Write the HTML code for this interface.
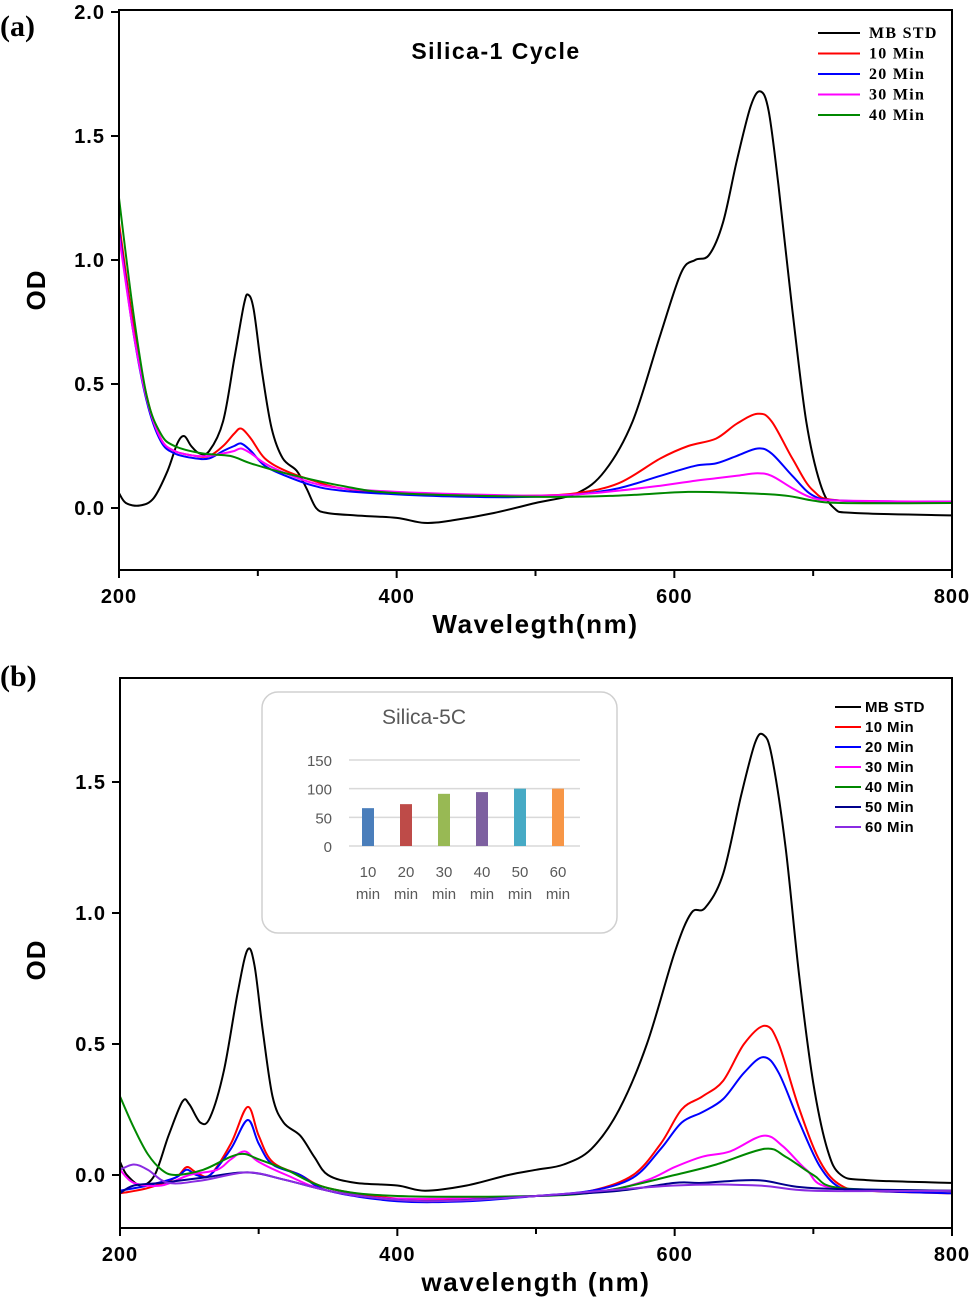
<!DOCTYPE html>
<html><head><meta charset="utf-8"><style>
body{margin:0;background:#fff;width:975px;height:1305px;overflow:hidden}
svg{display:block;font-family:"Liberation Sans",sans-serif}
</style></head><body>
<svg id="s" width="975" height="1305" viewBox="0 0 975 1305">
<text x="0" y="36" font-family="Liberation Serif" font-weight="bold" font-size="30">(a)</text>
<text x="0" y="686" font-family="Liberation Serif" font-weight="bold" font-size="30">(b)</text>
</svg>
<script>
const NS='http://www.w3.org/2000/svg';
const svg=document.getElementById('s');
function mk(tag,attrs,parent,text){const e=document.createElementNS(NS,tag);for(const k in attrs)e.setAttribute(k,attrs[k]);if(text!=null)e.textContent=text;(parent||svg).appendChild(e);return e;}

// ---- Panel (a) data ----
const aNames=['MB STD','10 Min','20 Min','30 Min','40 Min'];
const aColors=['#000','#f00','#00f','#f0f','#080'];
const aMB=[[200,0.06],[205,0.02],[215,0.01],[225,0.04],[235,0.15],[242,0.26],[247,0.29],[252,0.25],[258,0.22],[265,0.23],[275,0.35],[283,0.6],[290,0.82],[293,0.86],[297,0.8],[303,0.55],[310,0.32],[318,0.2],[328,0.15],[335,0.08],[342,0.0],[350,-0.02],[370,-0.03],[400,-0.04],[420,-0.06],[440,-0.05],[470,-0.02],[500,0.02],[530,0.06],[550,0.15],[570,0.35],[590,0.7],[605,0.95],[615,1.0],[625,1.02],[635,1.15],[645,1.4],[655,1.62],[662,1.68],[668,1.6],[675,1.3],[685,0.8],[695,0.35],[705,0.1],[715,0.0],[730,-0.02],[800,-0.03]];
const a10=[[200,1.15],[210,0.75],[220,0.45],[230,0.28],[240,0.23],[255,0.21],[265,0.21],[275,0.25],[283,0.3],[288,0.32],[295,0.28],[305,0.2],[320,0.15],[340,0.11],[360,0.08],[400,0.06],[450,0.05],[500,0.05],[530,0.06],[560,0.1],[590,0.2],[610,0.25],[630,0.28],[645,0.34],[660,0.38],[670,0.35],[685,0.2],[700,0.07],[720,0.03],[800,0.025]];
const a20=[[200,1.12],[210,0.72],[220,0.43],[230,0.27],[240,0.22],[255,0.2],[265,0.2],[275,0.23],[283,0.25],[288,0.26],[295,0.23],[305,0.17],[320,0.13],[340,0.09],[360,0.07],[400,0.055],[450,0.045],[500,0.045],[530,0.055],[560,0.08],[590,0.13],[615,0.17],[630,0.18],[645,0.21],[660,0.24],[670,0.22],[685,0.13],[700,0.05],[720,0.03],[800,0.025]];
const a30=[[200,1.1],[210,0.72],[220,0.44],[230,0.28],[240,0.23],[255,0.21],[265,0.21],[275,0.22],[283,0.23],[288,0.24],[295,0.22],[305,0.18],[320,0.14],[340,0.1],[360,0.08],[400,0.065],[450,0.055],[500,0.05],[530,0.055],[560,0.07],[590,0.09],[615,0.11],[630,0.12],[645,0.13],[660,0.14],[670,0.13],[685,0.08],[700,0.04],[720,0.03],[800,0.025]];
const a40=[[200,1.25],[210,0.8],[220,0.45],[230,0.3],[240,0.25],[260,0.22],[280,0.21],[295,0.18],[320,0.14],[360,0.09],[400,0.06],[500,0.045],[560,0.05],[610,0.065],[650,0.06],[680,0.05],[700,0.03],[720,0.02],[800,0.02]];
const aSeries=[aMB,a10,a20,a30,a40];

// ---- Panel (b) data ----
const bNames=['MB STD','10 Min','20 Min','30 Min','40 Min','50 Min','60 Min'];
const bColors=['#000','#f00','#00f','#f0f','#080','#00008b','#8a2be2'];
const bMB=[[200,0.05],[205,0.0],[215,-0.04],[225,0.0],[235,0.15],[245,0.28],[250,0.27],[258,0.2],[265,0.22],[275,0.4],[285,0.7],[292,0.86],[297,0.8],[303,0.55],[310,0.3],[318,0.2],[330,0.15],[340,0.07],[350,0.0],[370,-0.03],[400,-0.04],[420,-0.06],[450,-0.04],[480,0.0],[500,0.02],[520,0.04],[540,0.1],[560,0.25],[580,0.5],[600,0.85],[612,1.0],[622,1.02],[635,1.15],[648,1.45],[658,1.65],[664,1.68],[670,1.6],[680,1.25],[690,0.75],[700,0.35],[710,0.1],[720,0.0],[740,-0.02],[800,-0.03]];
const b10=[[200,-0.07],[220,-0.05],[240,-0.01],[248,0.03],[255,0.01],[265,0.0],[280,0.12],[292,0.26],[300,0.15],[310,0.05],[330,0.0],[350,-0.05],[400,-0.09],[450,-0.09],[500,-0.08],[540,-0.06],[570,0.0],[590,0.12],[605,0.25],[620,0.3],[635,0.36],[650,0.5],[665,0.57],[675,0.5],[690,0.25],[705,0.05],[720,-0.04],[740,-0.06],[800,-0.07]];
const b20=[[200,-0.06],[220,-0.04],[240,-0.01],[248,0.02],[255,0.0],[265,0.0],[280,0.1],[292,0.21],[300,0.12],[310,0.04],[330,0.0],[350,-0.06],[400,-0.1],[450,-0.1],[500,-0.08],[540,-0.06],[570,-0.01],[590,0.1],[605,0.2],[620,0.24],[635,0.29],[650,0.39],[664,0.45],[675,0.39],[690,0.2],[705,0.03],[720,-0.05],[740,-0.06],[800,-0.07]];
const b30=[[200,0.02],[210,-0.03],[230,-0.04],[250,0.0],[270,0.02],[280,0.06],[290,0.09],[300,0.05],[320,0.0],[350,-0.06],[400,-0.09],[500,-0.08],[550,-0.06],[580,-0.02],[600,0.03],[620,0.07],[640,0.09],[664,0.15],[678,0.11],[695,0.02],[715,-0.05],[800,-0.06]];
const b40=[[200,0.3],[210,0.18],[220,0.08],[230,0.02],[240,0.0],[260,0.02],[280,0.07],[290,0.08],[300,0.06],[320,0.02],[350,-0.05],[400,-0.08],[500,-0.08],[550,-0.06],[600,0.0],[630,0.04],[665,0.1],[680,0.07],[700,0.0],[720,-0.05],[800,-0.06]];
const b50=[[200,-0.07],[210,-0.04],[230,-0.03],[260,-0.01],[292,0.01],[320,-0.02],[360,-0.07],[420,-0.1],[500,-0.08],[560,-0.06],[600,-0.03],[620,-0.03],[660,-0.02],[700,-0.05],[800,-0.06]];
const b60=[[200,0.02],[210,0.04],[220,0.02],[235,-0.03],[260,-0.02],[292,0.01],[320,-0.02],[360,-0.07],[420,-0.1],[500,-0.08],[600,-0.04],[660,-0.04],[700,-0.06],[800,-0.06]];
const bSeries=[bMB,b10,b20,b30,b40,b50,b60];

// ---- Inset bar data ----
const insetCats=['10','20','30','40','50','60'];
const insetVals=[66,73,91,94,100,100];
const insetColors=['#4a7ebb','#be4b48','#98b954','#7d60a0','#46aac5','#f79646'];
const insetTicks=[0,50,100,150];

const xTicks=[200,400,600,800];

function smooth(pts){let d='M'+pts[0][0]+','+pts[0][1];for(let i=0;i<pts.length-1;i++){const p0=pts[i-1]||pts[i],p1=pts[i],p2=pts[i+1],p3=pts[i+2]||p2;const c1=[p1[0]+(p2[0]-p0[0])/6,p1[1]+(p2[1]-p0[1])/6],c2=[p2[0]-(p3[0]-p1[0])/6,p2[1]-(p3[1]-p1[1])/6];d+=`C${c1[0].toFixed(1)},${c1[1].toFixed(1)} ${c2[0].toFixed(1)},${c2[1].toFixed(1)} ${p2[0].toFixed(1)},${p2[1].toFixed(1)}`;}return d;}

function panel(cfg){
  const g=mk('g',{});
  
  
  const X=v=>cfg.x0+(v-200)/600*(cfg.x1-cfg.x0);
  const Y=v=>cfg.yz-v*cfg.k;
  const clipId=cfg.name+'-clip';
  const cp=mk('clipPath',{id:clipId},g);mk('rect',{x:cfg.x0,y:cfg.top,width:cfg.x1-cfg.x0,height:cfg.bot-cfg.top},cp);
  cfg.series.forEach((s,i)=>{
    const p=mk('path',{d:smooth(s.map(q=>[X(q[0]),Y(q[1])])),fill:'none',stroke:cfg.colors[i],'stroke-width':2,'clip-path':`url(#${clipId})`},g);
    
    
  });
  mk('rect',{x:cfg.x0,y:cfg.top,width:cfg.x1-cfg.x0,height:cfg.bot-cfg.top,fill:'none',stroke:'#000','stroke-width':2},g);
  xTicks.forEach(t=>{mk('line',{x1:X(t),x2:X(t),y1:cfg.bot,y2:cfg.bot+8,stroke:'#000','stroke-width':2},g);
    const tx=mk('text',{x:X(t),y:cfg.bot+33,'text-anchor':'middle','font-size':20,'font-weight':'bold','letter-spacing':1},g,t);
    });
  [300,500,700].forEach(t=>mk('line',{x1:X(t),x2:X(t),y1:cfg.bot,y2:cfg.bot+6,stroke:'#000','stroke-width':2},g));
  cfg.yTicks.forEach(t=>{mk('line',{x1:cfg.x0-8,x2:cfg.x0,y1:Y(t),y2:Y(t),stroke:'#000','stroke-width':2},g);
    const ty=mk('text',{x:cfg.x0-14,y:Y(t)+7,'text-anchor':'end','font-size':20,'font-weight':'bold','letter-spacing':1},g,t.toFixed(1));
    });
  const xt=mk('text',{x:(cfg.x0+cfg.x1)/2,y:cfg.bot+63,'text-anchor':'middle','font-size':26,'font-weight':'bold','letter-spacing':1.6},g,cfg.xtitle);
  
  const yt=mk('text',{x:0,y:0,transform:`translate(45,${cfg.ytitleY}) rotate(-90)`,'text-anchor':'middle','font-size':26,'font-weight':'bold','letter-spacing':1},g,'OD');
  
  cfg.names.forEach((n,i)=>{const ly=cfg.legY+i*cfg.legDy;
    const le=mk('g',{},g);
    mk('line',{x1:cfg.legX,x2:cfg.legX+cfg.legW,y1:ly,y2:ly,stroke:cfg.colors[i],'stroke-width':2},le);
    mk('text',{x:cfg.legX+cfg.legW+(cfg.serif?9:4),y:ly+5,'font-size':cfg.serif?16:15,'font-weight':'bold','letter-spacing':cfg.serif?1.3:0.4,'font-family':cfg.serif?'Liberation Serif':'Liberation Sans'},le,n);});
}

panel({name:'panel-a',x0:119,x1:952,top:10,bot:570,yz:508,k:248,yTicks:[0,0.5,1,1.5,2],series:aSeries,colors:aColors,names:aNames,xtitle:'Wavelegth(nm)',ytitleY:290,legX:818,legY:33,legDy:20.5,legW:42,serif:true});
const title=mk('text',{x:496,y:59,'text-anchor':'middle','font-size':23,'font-weight':'bold','letter-spacing':1.5},svg,'Silica-1 Cycle');

panel({name:'panel-b',x0:120,x1:952,top:678,bot:1228,yz:1175,k:262,yTicks:[0,0.5,1,1.5],series:bSeries,colors:bColors,names:bNames,xtitle:'wavelength (nm)',ytitleY:960,legX:835,legY:707,legDy:20,legW:26,serif:false});

// inset
const ig=mk('g',{});
mk('rect',{x:262,y:692,width:355,height:241,rx:16,fill:'#fff',stroke:'#d0d0d0','stroke-width':1.5},ig);
const it=mk('text',{x:424,y:724,'text-anchor':'middle','font-size':21,fill:'#595959'},ig,'Silica-5C');

const IY=v=>846-v*(86/150);
insetTicks.forEach(t=>{mk('line',{x1:349,x2:580,y1:IY(t),y2:IY(t),stroke:'#d9d9d9','stroke-width':1.5},ig);
  mk('text',{x:332,y:IY(t)+6,'text-anchor':'end','font-size':15,fill:'#595959'},ig,t);});
insetVals.forEach((v,i)=>{const cx=368+i*38;
  const b=mk('rect',{x:cx-6,y:IY(v),width:12,height:846-IY(v),fill:insetColors[i]},ig);
  
  mk('text',{x:cx,y:877,'text-anchor':'middle','font-size':15,fill:'#595959'},ig,insetCats[i]);
  mk('text',{x:cx,y:899,'text-anchor':'middle','font-size':15,fill:'#595959'},ig,'min');});
</script>
</body></html>
